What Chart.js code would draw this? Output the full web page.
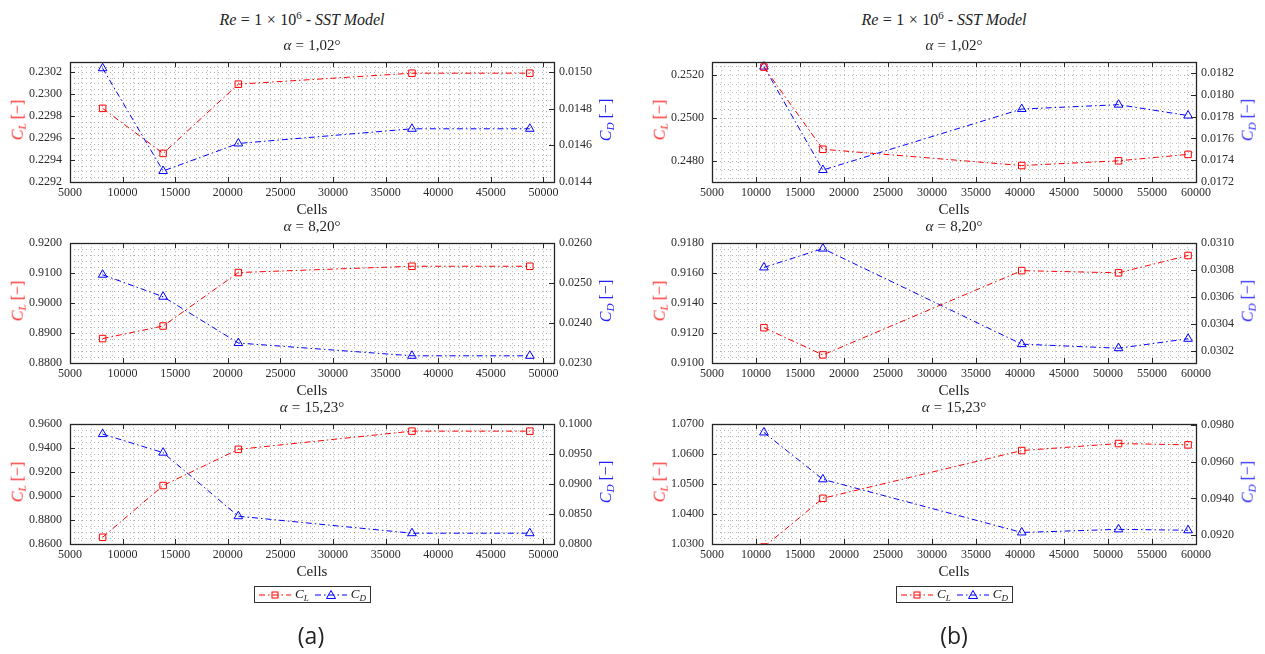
<!DOCTYPE html>
<html><head><meta charset="utf-8">
<script src="https://cdn.jsdelivr.net/npm/chart.js@4.4.1/dist/chart.umd.min.js"></script>
<style>
body{margin:0;background:#fff;}
#wrap{position:relative;width:1265px;height:654px;overflow:hidden;background:#fff;font-family:"Liberation Serif",serif;color:#222;}
.box{position:absolute;}
.t{position:absolute;transform:translate(-50%,-50%);white-space:nowrap;line-height:1;}
.r{transform:translate(-50%,-50%) rotate(-90deg);}
.t sub{font-size:70%;vertical-align:-0.3em;}
.t sup{font-size:68%;vertical-align:0.55em;}
.sp{display:inline-block;width:0.28em;}
.leg{position:absolute;border:1px solid #333;background:#fff;display:flex;align-items:center;font-family:"Liberation Serif",serif;font-size:13px;box-sizing:border-box;padding:0 3px;}
.leg sub{font-size:70%;vertical-align:-0.3em;}
.lab{position:absolute;transform:translate(-50%,-50%);font-family:"Open Sans",sans-serif;font-size:23px;color:#222;}
</style></head><body><div id="wrap"></div>
<script>
// ---------- DATA ----------
const cellsA = [8100, 13850, 21000, 37500, 48700];
const cellsB = [10900, 17600, 40200, 51200, 59100];

const clA1 = [0.22987, 0.22946, 0.23009, 0.23019, 0.23019];
const cdA1 = [0.01502, 0.01446, 0.01461, 0.01469, 0.01469];
const clA2 = [0.88816, 0.89235, 0.9102, 0.9123, 0.9123];
const cdA2 = [0.02521, 0.02466, 0.0235, 0.02318, 0.02318];
const clA3 = [0.8656, 0.9088, 0.9390, 0.9542, 0.9542];
const cdA3 = [0.09835, 0.09525, 0.08464, 0.0818, 0.0818];

const clB1 = [0.25237, 0.24853, 0.24777, 0.24799, 0.24829];
const cdB1 = [0.01826, 0.01731, 0.01787, 0.01791, 0.01781];
const clB2 = [0.91236, 0.91054, 0.91617, 0.91602, 0.91718];
const cdB2 = [0.03082, 0.03096, 0.03025, 0.03022, 0.03029];
const clB3 = [1.0290, 1.04526, 1.0612, 1.06355, 1.0631];
const cdB3 = [0.0976, 0.09504, 0.09214, 0.09231, 0.09226];

// axis limits
const xLimA = [5000, 51000];
const xLimB = [5000, 60000];
const ylLimA1 = [0.2292, 0.23029], yrLimA1 = [0.0144, 0.015053];
const ylLimA2 = [0.88, 0.92],      yrLimA2 = [0.023, 0.026];
const ylLimA3 = [0.86, 0.96],      yrLimA3 = [0.08, 0.10];
const ylLimB1 = [0.2470, 0.2526],  yrLimB1 = [0.0172, 0.0183];
const ylLimB2 = [0.91, 0.918],     yrLimB2 = [0.03011, 0.0310];
const ylLimB3 = [1.03, 1.07],      yrLimB3 = [0.09151, 0.09805];

// tick labels
const xTicksA = [5000,10000,15000,20000,25000,30000,35000,40000,45000,50000];
const xTicksB = [5000,10000,15000,20000,25000,30000,35000,40000,45000,50000,55000,60000];
const ylTicksA1 = [0.2292,0.2294,0.2296,0.2298,0.2300,0.2302];
const yrTicksA1 = [0.0144,0.0146,0.0148,0.0150];
const ylTicksA2 = [0.88,0.89,0.90,0.91,0.92];
const yrTicksA2 = [0.023,0.024,0.025,0.026];
const ylTicksA3 = [0.86,0.88,0.90,0.92,0.94,0.96];
const yrTicksA3 = [0.080,0.085,0.090,0.095,0.100];
const ylTicksB1 = [0.2480,0.2500,0.2520];
const yrTicksB1 = [0.0172,0.0174,0.0176,0.0178,0.0180,0.0182];
const ylTicksB2 = [0.910,0.912,0.914,0.916,0.918];
const yrTicksB2 = [0.0302,0.0304,0.0306,0.0308,0.0310];
const ylTicksB3 = [1.03,1.04,1.05,1.06,1.07];
const yrTicksB3 = [0.092,0.094,0.096,0.098];

const titles = ['1,02°', '8,20°', '15,23°'];

// ---------- LAYOUT ----------
const PW = 484, PH = 125, PADL = 70, PADR = 60, PADT = 10, PADB = 24;
const panels = [
  {x0:70,  y0:57,  xs:cellsA, cl:clA1, cd:cdA1, xl:xLimA, yl:ylLimA1, yr:yrLimA1, xt:xTicksA, ylt:ylTicksA1, yrt:yrTicksA1, yMinor:0.00005},
  {x0:70,  y0:238, xs:cellsA, cl:clA2, cd:cdA2, xl:xLimA, yl:ylLimA2, yr:yrLimA2, xt:xTicksA, ylt:ylTicksA2, yrt:yrTicksA2, yMinor:0.002},
  {x0:70,  y0:419, xs:cellsA, cl:clA3, cd:cdA3, xl:xLimA, yl:ylLimA3, yr:yrLimA3, xt:xTicksA, ylt:ylTicksA3, yrt:yrTicksA3, yMinor:0.005},
  {x0:712, y0:57,  xs:cellsB, cl:clB1, cd:cdB1, xl:xLimB, yl:ylLimB1, yr:yrLimB1, xt:xTicksB, ylt:ylTicksB1, yrt:yrTicksB1, yMinor:0.0004},
  {x0:712, y0:238, xs:cellsB, cl:clB2, cd:cdB2, xl:xLimB, yl:ylLimB2, yr:yrLimB2, xt:xTicksB, ylt:ylTicksB2, yrt:yrTicksB2, yMinor:0.0004},
  {x0:712, y0:419, xs:cellsB, cl:clB3, cd:cdB3, xl:xLimB, yl:ylLimB3, yr:yrLimB3, xt:xTicksB, ylt:ylTicksB3, yrt:yrTicksB3, yMinor:0.002}
];

Chart.defaults.font.family = '"Liberation Serif", serif';
Chart.defaults.font.size = 12;
Chart.defaults.color = '#2b2b2b';

const framePlugin = {
  id: 'frame',
  beforeDatasetsDraw(chart) {
    const {ctx, chartArea: a, scales} = chart;
    const o = chart.options.plugins.frame;
    ctx.save();
    ctx.beginPath(); ctx.rect(a.left, a.top, a.right - a.left, a.bottom - a.top); ctx.clip();
    ctx.strokeStyle = 'rgba(70,70,70,0.42)'; ctx.lineWidth = 1; ctx.setLineDash([1, 3]);
    const sx = scales.x, sy = scales.y;
    for (let k = 0; ; k++) {
      const v = sx.min + k * o.xMinor; if (v > sx.max + 1e-9) break;
      const p = Math.round(sx.getPixelForValue(v)) + 0.5;
      ctx.beginPath(); ctx.moveTo(p, a.top); ctx.lineTo(p, a.bottom); ctx.stroke();
    }
    const s0 = Math.ceil(sy.min / o.yMinor - 1e-6);
    for (let k = s0; ; k++) {
      const v = k * o.yMinor; if (v > sy.max + 1e-12) break;
      const p = Math.round(sy.getPixelForValue(v)) + 0.5;
      ctx.beginPath(); ctx.moveTo(a.left, p); ctx.lineTo(a.right, p); ctx.stroke();
    }
    ctx.restore();
  },
  afterDatasetsDraw(chart) {
    const {ctx, chartArea: a, scales} = chart;
    ctx.save();
    ctx.strokeStyle = '#262626'; ctx.lineWidth = 1.3; ctx.setLineDash([]);
    ctx.strokeRect(Math.round(a.left) + 0.5, Math.round(a.top) + 0.5, Math.round(a.right - a.left), Math.round(a.bottom - a.top));
    const L = 5;
    ctx.lineWidth = 1;
    ctx.beginPath();
    scales.x.ticks.forEach(t => {
      const p = Math.round(scales.x.getPixelForValue(t.value)) + 0.5;
      ctx.moveTo(p, a.bottom); ctx.lineTo(p, a.bottom - L);
      ctx.moveTo(p, a.top); ctx.lineTo(p, a.top + L);
    });
    scales.y.ticks.forEach(t => {
      const p = Math.round(scales.y.getPixelForValue(t.value)) + 0.5;
      ctx.moveTo(a.left, p); ctx.lineTo(a.left + L, p);
    });
    scales.y1.ticks.forEach(t => {
      const p = Math.round(scales.y1.getPixelForValue(t.value)) + 0.5;
      ctx.moveTo(a.right, p); ctx.lineTo(a.right - L, p);
    });
    ctx.stroke();
    ctx.restore();
  }
};

const wrap = document.getElementById('wrap');
function addText(html, x, y, size, extra) {
  const d = document.createElement('div');
  d.className = 't' + (extra && extra.rot ? ' r' : '');
  d.style.left = x + 'px'; d.style.top = y + 'px'; d.style.fontSize = size + 'px';
  if (extra && extra.color) d.style.color = extra.color;
  d.innerHTML = html;
  wrap.appendChild(d);
}

const dash = [6, 3, 1.5, 3];
panels.forEach((P, i) => {
  const box = document.createElement('div');
  box.className = 'box';
  box.style.left = (P.x0 - PADL) + 'px';
  box.style.top = (P.y0 - PADT) + 'px';
  const cv = document.createElement('canvas');
  cv.width = PW + PADL + PADR; cv.height = PH + PADT + PADB;
  cv.style.width = cv.width + 'px'; cv.style.height = cv.height + 'px';
  box.appendChild(cv); wrap.appendChild(box);

  const setTicks = arr => s => { s.ticks = arr.map(v => ({value: v})); };
  const clipB = {left: false, right: false, top: false, bottom: 0};
  new Chart(cv, {
    type: 'line',
    data: {
      datasets: [
        {label: 'CL', data: P.xs.map((x, k) => ({x, y: P.cl[k]})), yAxisID: 'y',
         borderColor: '#ff0000', borderWidth: 1, borderDash: dash, pointStyle: 'rect', pointRadius: 4.6,
         pointBorderColor: '#ff0000', pointBackgroundColor: 'rgba(0,0,0,0)', pointBorderWidth: 1, tension: 0, fill: false, clip: clipB},
        {label: 'CD', data: P.xs.map((x, k) => ({x, y: P.cd[k]})), yAxisID: 'y1',
         borderColor: '#0000ff', borderWidth: 1, borderDash: dash, pointStyle: 'triangle', pointRadius: 5,
         pointBorderColor: '#0000ff', pointBackgroundColor: 'rgba(0,0,0,0)', pointBorderWidth: 1, tension: 0, fill: false, clip: clipB}
      ]
    },
    options: {
      responsive: false, animation: false, devicePixelRatio: 1,
      layout: {padding: {top: PADT, left: 0, right: 0, bottom: 0}},
      plugins: {legend: {display: false}, tooltip: {enabled: false}, frame: {xMinor: 1000, yMinor: P.yMinor}},
      scales: {
        x: {type: 'linear', position: 'bottom', min: P.xl[0], max: P.xl[1], bounds: 'data',
            afterBuildTicks: setTicks(P.xt), afterFit: s => { s.height = PADB; },
            grid: {display: false, drawTicks: false}, border: {display: false},
            ticks: {autoSkip: false, maxRotation: 0, padding: 4, callback: v => String(v)}},
        y: {type: 'linear', position: 'left', min: P.yl[0], max: P.yl[1], bounds: 'data',
            afterBuildTicks: setTicks(P.ylt), afterFit: s => { s.width = PADL; },
            grid: {display: false, drawTicks: false}, border: {display: false},
            ticks: {autoSkip: false, padding: 8, callback: v => Number(v).toFixed(4)}},
        y1: {type: 'linear', position: 'right', min: P.yr[0], max: P.yr[1], bounds: 'data',
            afterBuildTicks: setTicks(P.yrt), afterFit: s => { s.width = PADR; },
            grid: {display: false, drawTicks: false}, border: {display: false},
            ticks: {autoSkip: false, padding: 5, callback: v => Number(v).toFixed(4)}}
      }
    },
    plugins: [framePlugin]
  });

  const cx = P.x0 + PW / 2, cy = P.y0 + PH / 2;
  addText('<i>α</i><span class="sp"></span>=<span class="sp"></span>' + titles[i % 3], cx, P.y0 - 12, 15);
  addText('Cells', cx, P.y0 + PH + 27, 15);
  addText('<i>C</i><sub><i>L</i></sub> [−]', P.x0 - 51, cy, 16, {rot: true, color: '#ff2020'});
  addText('<i>C</i><sub><i>D</i></sub> [−]', P.x0 + PW + 53, cy, 16, {rot: true, color: '#2020ff'});
});

const mainTitle = '<i>Re</i><span class="sp"></span>=<span class="sp"></span>1<span class="sp"></span>×<span class="sp"></span>10<sup>6</sup> - <i>SST Model</i>';
addText(mainTitle, 302, 19, 16);
addText(mainTitle, 944, 19, 16);

function legend(left) {
  const d = document.createElement('div');
  d.className = 'leg';
  d.style.left = left + 'px'; d.style.top = '586px'; d.style.width = '117px'; d.style.height = '17px';
  const sample = (col, tri) => `<svg width="34" height="12" style="margin-right:3px"><line x1="1" y1="6" x2="33" y2="6" stroke="${col}" stroke-width="1" stroke-dasharray="6 3 1.5 3"/>` +
    (tri ? `<polygon points="17,1.5 21.5,9.5 12.5,9.5" fill="none" stroke="${col}" stroke-width="1"/>` : `<rect x="14" y="3" width="6" height="6" fill="none" stroke="${col}" stroke-width="1"/>`) + '</svg>';
  d.innerHTML = sample('#ff0000', false) + '<span style="margin-right:5px"><i>C</i><sub><i>L</i></sub></span>' + sample('#0000ff', true) + '<span><i>C</i><sub><i>D</i></sub></span>';
  wrap.appendChild(d);
}
legend(254);
legend(896);

const la = document.createElement('div'); la.className = 'lab'; la.style.left = '311px'; la.style.top = '635px'; la.textContent = '(a)'; wrap.appendChild(la);
const lb = document.createElement('div'); lb.className = 'lab'; lb.style.left = '954px'; lb.style.top = '635px'; lb.textContent = '(b)'; wrap.appendChild(lb);
</script>
</body></html>
